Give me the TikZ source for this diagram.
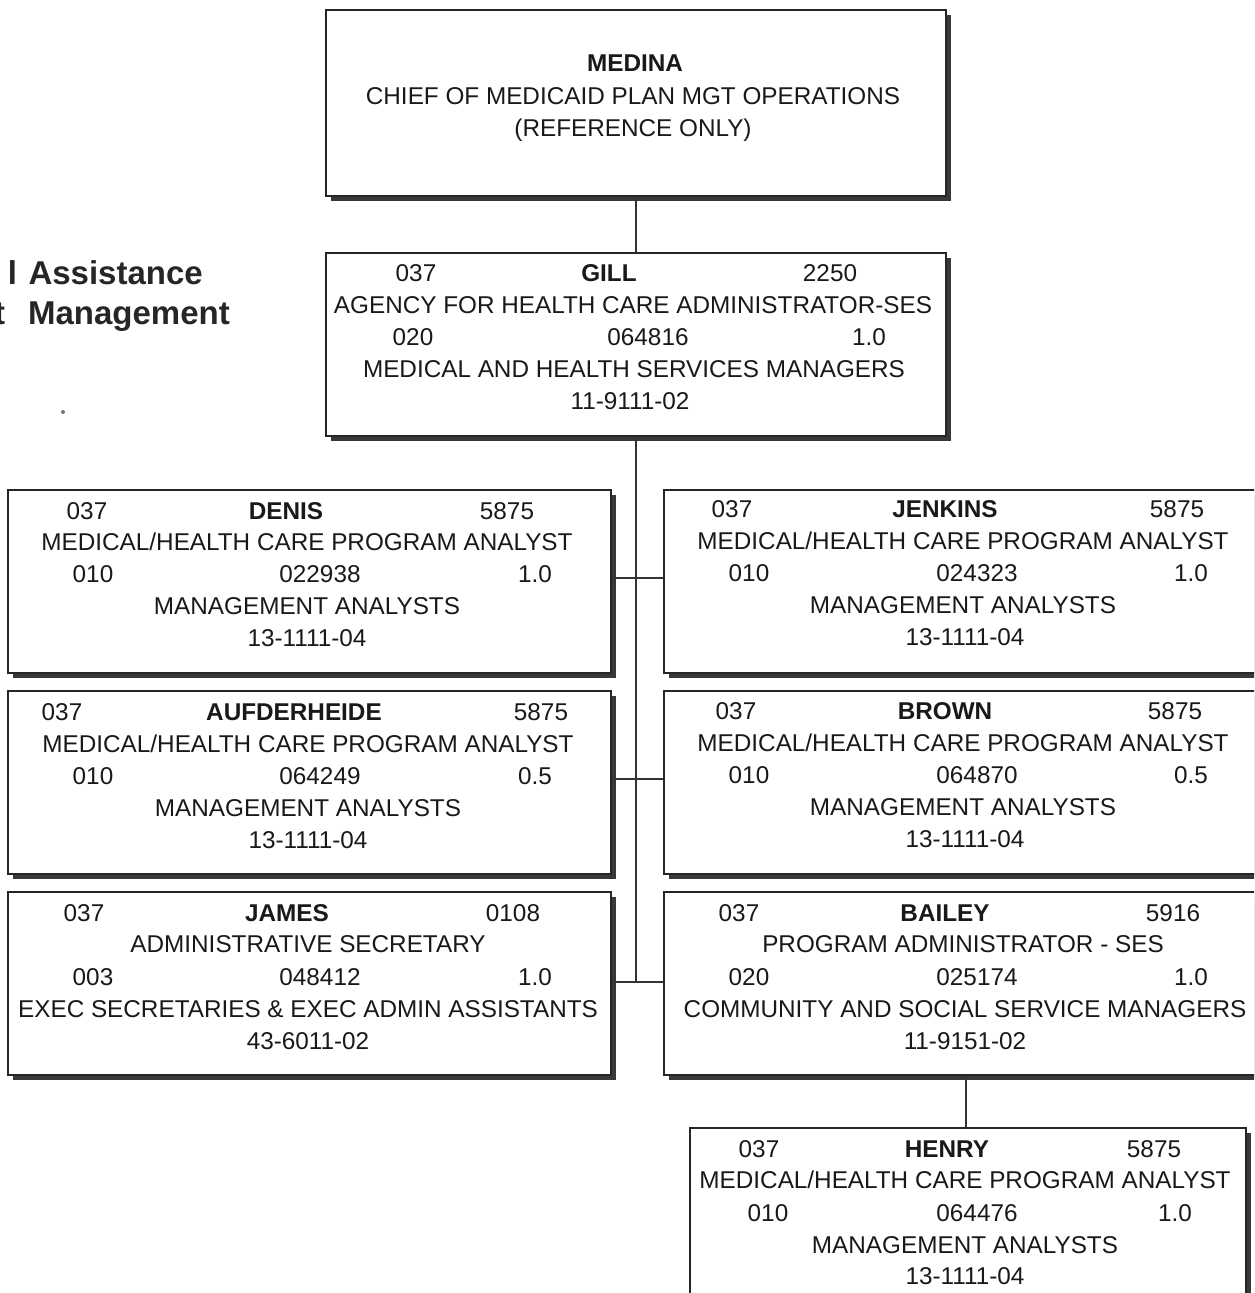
\documentclass[tikz,border=0pt]{standalone}
\usepackage{fontspec}
\setmainfont{Liberation Sans}
\usetikzlibrary{shadows}

\tikzset{
  orgbox/.style={draw=black!85, line width=1.3pt, fill=white, inner sep=0pt,
    drop shadow={shadow xshift=4.5pt, shadow yshift=-4.5pt, fill=black!78, opacity=1}},
  link/.style={draw=black!80, line width=1.3pt},
  lbl/.style={inner sep=0pt, anchor=base, yshift=-8.5pt, text=black!90,
    font=\fontsize{24.3}{28}\selectfont},
  boldlbl/.style={lbl, font=\fontsize{24.3}{28}\selectfont\bfseries},
  heading/.style={inner sep=0pt, anchor=base east, text=black!85,
    font=\fontsize{33}{38}\selectfont\bfseries}
}

% text placed by its centre line: name, x, y, text
\newcommand{\txtat}[4]{\node[lbl] (#1) at (#2,#3) {#4};}
\newcommand{\boldat}[4]{\node[boldlbl] (#1) at (#2,#3) {#4};}

\begin{document}
\begin{tikzpicture}[x=1pt, y=-1pt]
  \useasboundingbox (0,0) rectangle (1254,1293);
  \clip (0,0) rectangle (1254,1293);

  % section heading
  \node[heading] (head1) at (203,284) {l\hspace{0.35em}Assistance};
  \node[heading] (head2) at (230,324) {t\hspace{0.7em}Management};
  \fill[black!55] (63,412) circle (2pt);

  % boxes
  \node[orgbox, minimum width=620pt, minimum height=186pt] (medina)  at (636,103) {};
  \node[orgbox, minimum width=620pt, minimum height=183pt] (gill)    at (636,344.5) {};
  \node[orgbox, minimum width=603pt, minimum height=183pt] (denis)   at (309.5,581.5) {};
  \node[orgbox, minimum width=598pt, minimum height=183pt] (jenkins) at (963,581.5) {};
  \node[orgbox, minimum width=603pt, minimum height=183pt] (aufd)    at (309.5,782.5) {};
  \node[orgbox, minimum width=598pt, minimum height=183pt] (brown)   at (963,782.5) {};
  \node[orgbox, minimum width=603pt, minimum height=183pt] (james)   at (309.5,983.5) {};
  \node[orgbox, minimum width=598pt, minimum height=183pt] (bailey)  at (963,983.5) {};
  \node[orgbox, minimum width=556pt, minimum height=183pt] (henry)   at (968,1219.5) {};

  % connectors
  \draw[link] (medina.south) -- (gill.north);
  \draw[link] (gill.south) -- ([yshift=1.5pt]gill.south |- james.east);
  \draw[link] ([yshift=3.5pt]denis.east) -- ([yshift=3.5pt]denis.east -| jenkins.west);
  \draw[link] ([yshift=3.5pt]aufd.east) -- ([yshift=3.5pt]aufd.east -| brown.west);
  \draw[link] ([yshift=1.5pt]james.east) -- ([yshift=1.5pt]james.east -| bailey.west);
  \draw[link] ([xshift=3pt]bailey.south) -- ([xshift=3pt]bailey.south |- henry.north);

  % MEDINA
  \boldat{m1}{635}{63}{MEDINA}
  \txtat{m2}{633}{96}{CHIEF OF MEDICAID PLAN MGT OPERATIONS}
  \txtat{m3}{633}{128}{(REFERENCE ONLY)}

  % GILL
  \txtat{g1}{416}{273}{037}
  \boldat{g2}{609}{273}{GILL}
  \txtat{g3}{830}{273}{2250}
  \txtat{g4}{633}{305}{AGENCY FOR HEALTH CARE ADMINISTRATOR-SES}
  \txtat{g5}{413}{337}{020}
  \txtat{g6}{648}{337}{064816}
  \txtat{g7}{869}{337}{1.0}
  \txtat{g8}{634}{369}{MEDICAL AND HEALTH SERVICES MANAGERS}
  \txtat{g9}{630}{401}{11-9111-02}

  % DENIS
  \txtat{d1}{87}{511}{037}
  \boldat{d2}{286}{511}{DENIS}
  \txtat{d3}{507}{511}{5875}
  \txtat{d4}{307}{542}{MEDICAL/HEALTH CARE PROGRAM ANALYST}
  \txtat{d5}{93}{574}{010}
  \txtat{d6}{320}{574}{022938}
  \txtat{d7}{535}{574}{1.0}
  \txtat{d8}{307}{606}{MANAGEMENT ANALYSTS}
  \txtat{d9}{307}{638}{13-1111-04}

  % JENKINS
  \txtat{j1}{732}{509}{037}
  \boldat{j2}{945}{509}{JENKINS}
  \txtat{j3}{1177}{509}{5875}
  \txtat{j4}{963}{541}{MEDICAL/HEALTH CARE PROGRAM ANALYST}
  \txtat{j5}{749}{573}{010}
  \txtat{j6}{977}{573}{024323}
  \txtat{j7}{1191}{573}{1.0}
  \txtat{j8}{963}{605}{MANAGEMENT ANALYSTS}
  \txtat{j9}{965}{637}{13-1111-04}

  % AUFDERHEIDE
  \txtat{a1}{62}{712}{037}
  \boldat{a2}{294}{712}{AUFDERHEIDE}
  \txtat{a3}{541}{712}{5875}
  \txtat{a4}{308}{744}{MEDICAL/HEALTH CARE PROGRAM ANALYST}
  \txtat{a5}{93}{776}{010}
  \txtat{a6}{320}{776}{064249}
  \txtat{a7}{535}{776}{0.5}
  \txtat{a8}{308}{808}{MANAGEMENT ANALYSTS}
  \txtat{a9}{308}{840}{13-1111-04}

  % BROWN
  \txtat{b1}{736}{711}{037}
  \boldat{b2}{945}{711}{BROWN}
  \txtat{b3}{1175}{711}{5875}
  \txtat{b4}{963}{743}{MEDICAL/HEALTH CARE PROGRAM ANALYST}
  \txtat{b5}{749}{775}{010}
  \txtat{b6}{977}{775}{064870}
  \txtat{b7}{1191}{775}{0.5}
  \txtat{b8}{963}{807}{MANAGEMENT ANALYSTS}
  \txtat{b9}{965}{839}{13-1111-04}

  % JAMES
  \txtat{s1}{84}{913}{037}
  \boldat{s2}{287}{913}{JAMES}
  \txtat{s3}{513}{913}{0108}
  \txtat{s4}{308}{944}{ADMINISTRATIVE SECRETARY}
  \txtat{s5}{93}{977}{003}
  \txtat{s6}{320}{977}{048412}
  \txtat{s7}{535}{977}{1.0}
  \txtat{s8}{308}{1009}{EXEC SECRETARIES \& EXEC ADMIN ASSISTANTS}
  \txtat{s9}{308}{1041}{43-6011-02}

  % BAILEY
  \txtat{y1}{739}{913}{037}
  \boldat{y2}{945}{913}{BAILEY}
  \txtat{y3}{1173}{913}{5916}
  \txtat{y4}{963}{944}{PROGRAM ADMINISTRATOR - SES}
  \txtat{y5}{749}{977}{020}
  \txtat{y6}{977}{977}{025174}
  \txtat{y7}{1191}{977}{1.0}
  \txtat{y8}{965}{1009}{COMMUNITY AND SOCIAL SERVICE MANAGERS}
  \txtat{y9}{965}{1041}{11-9151-02}

  % HENRY
  \txtat{h1}{759}{1149}{037}
  \boldat{h2}{947}{1149}{HENRY}
  \txtat{h3}{1154}{1149}{5875}
  \txtat{h4}{965}{1180}{MEDICAL/HEALTH CARE PROGRAM ANALYST}
  \txtat{h5}{768}{1213}{010}
  \txtat{h6}{977}{1213}{064476}
  \txtat{h7}{1175}{1213}{1.0}
  \txtat{h8}{965}{1245}{MANAGEMENT ANALYSTS}
  \txtat{h9}{965}{1276}{13-1111-04}
\end{tikzpicture}
\end{document}
